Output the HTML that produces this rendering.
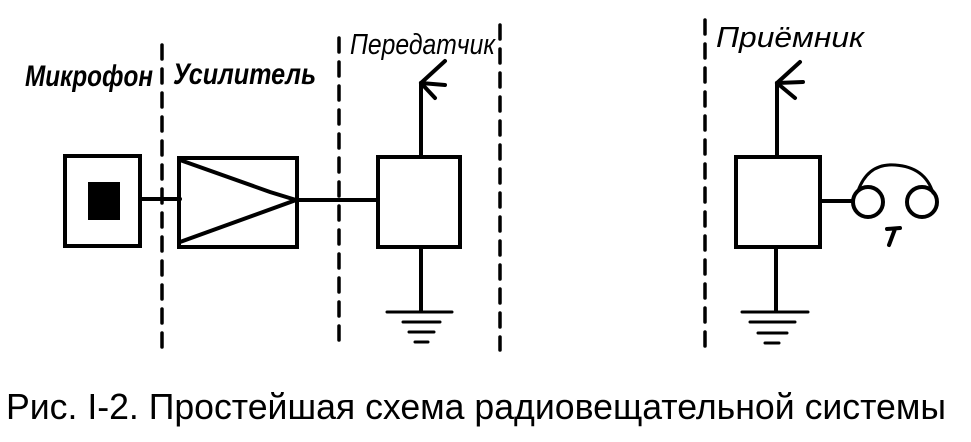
<!DOCTYPE html>
<html><head><meta charset="utf-8"><style>
html,body{margin:0;padding:0;background:#fff;width:971px;height:442px;overflow:hidden}
</style></head><body>
<svg width="971" height="442" viewBox="0 0 971 442" xmlns="http://www.w3.org/2000/svg">
<g stroke="#000" fill="none" stroke-linecap="round">
<g stroke-width="3.5" stroke-dasharray="14,10">
<line x1="162" y1="45" x2="162" y2="352"/>
<line x1="339" y1="38" x2="339" y2="350"/>
<line x1="500" y1="25" x2="500" y2="350"/>
<line x1="705" y1="20" x2="705" y2="355"/>
</g>
<g stroke-width="4">
<rect x="65" y="156" width="75" height="90"/>
<line x1="140" y1="199" x2="180" y2="199"/>
<rect x="179" y="158" width="118" height="89"/>
<polyline points="180,160 270,192 296,200 180,242"/>
<line x1="297" y1="200" x2="378" y2="200"/>
<rect x="378" y="157" width="82" height="90"/>
<line x1="421" y1="157" x2="421" y2="83"/>
<line x1="421" y1="83" x2="445" y2="61"/>
<line x1="421" y1="83" x2="445" y2="85"/>
<line x1="421" y1="83" x2="435" y2="98"/>
<line x1="421" y1="247" x2="421" y2="311"/>
<rect x="736" y="157" width="84" height="90"/>
<line x1="777" y1="157" x2="777" y2="83"/>
<line x1="777" y1="83" x2="800" y2="62"/>
<line x1="777" y1="83" x2="803" y2="82"/>
<line x1="777" y1="83" x2="795" y2="98"/>
<line x1="776" y1="247" x2="776" y2="311"/>
<line x1="820" y1="201" x2="853" y2="201"/>
<circle cx="868" cy="202" r="15"/>
<circle cx="922" cy="202" r="15"/>
<path d="M858,191 Q868,163 895,165 Q925,167 933,193" stroke-width="3"/>
<path d="M887,229 L900,228 M895,229 L889,245" stroke-width="4"/>
</g>
<g stroke-width="3">
<line x1="387" y1="312" x2="452" y2="312"/>
<line x1="403" y1="322" x2="440" y2="322"/>
<line x1="409" y1="332" x2="434" y2="332"/>
<line x1="415" y1="342" x2="428" y2="342"/>
<line x1="742" y1="312" x2="808" y2="312"/>
<line x1="750" y1="322" x2="795" y2="322"/>
<line x1="758" y1="333" x2="787" y2="333"/>
<line x1="765" y1="343" x2="779" y2="343"/>
</g>
</g>
<rect x="88" y="182" width="32" height="38" fill="#000"/>
<g font-family="Liberation Sans, sans-serif" font-style="italic" fill="#000">
<text x="25" y="86" font-size="30" font-weight="bold" textLength="128" lengthAdjust="spacingAndGlyphs">Микрофон</text>
<text x="173" y="84" font-size="30" font-weight="bold" textLength="143" lengthAdjust="spacingAndGlyphs">Усилитель</text>
<text x="350" y="54" font-size="29" textLength="145" lengthAdjust="spacingAndGlyphs">Передатчик</text>
<text x="716" y="47" font-size="29" textLength="148" lengthAdjust="spacingAndGlyphs">Приёмник</text>
</g>
<text x="6" y="419" font-family="Liberation Sans, sans-serif" font-size="36" fill="#000" textLength="940" lengthAdjust="spacingAndGlyphs">Рис. I-2. Простейшая  схема  радиовещательной системы</text>
</svg>
</body></html>
